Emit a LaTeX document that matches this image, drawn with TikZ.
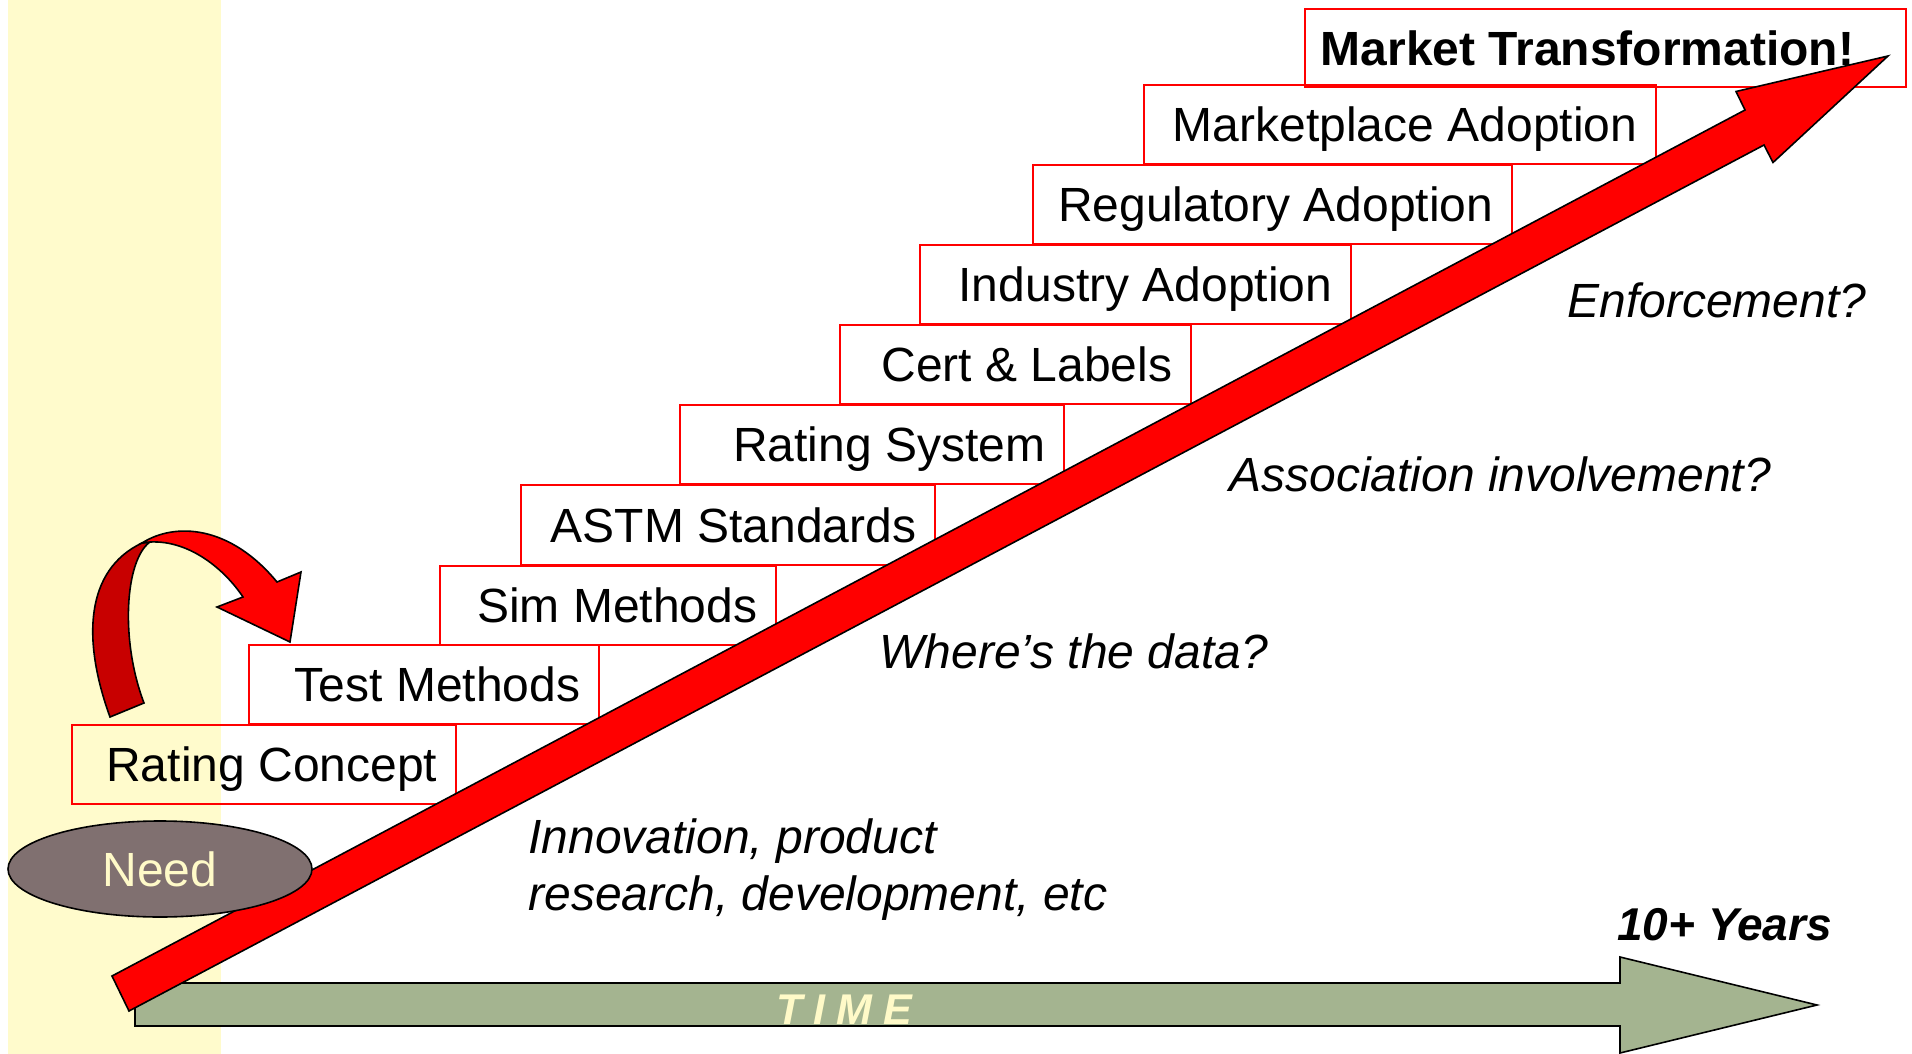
\documentclass[tikz,border=0pt]{standalone}
\usepackage{fontspec}
\setmainfont{Liberation Sans}
\usetikzlibrary{fit,shapes.geometric}
\definecolor{bandyellow}{RGB}{255,251,204}
\definecolor{timegreen}{RGB}{164,180,144}
\definecolor{needgray}{RGB}{128,112,112}
\definecolor{darkred}{RGB}{200,0,0}
\definecolor{lighttext}{RGB}{255,250,200}
\newcommand\stairbox[6]{%
  \node[boxst, fit={(#2,#3) (#4,#5)}] (#1) {};
  \node[boxlbl, anchor=east] (#1t) at ([xshift=-9.8pt]#1.east) {#6};
}
\begin{document}
\begin{tikzpicture}[x=0.5pt,y=-0.5pt,
  boxst/.style={draw=red, line width=1.2pt, inner sep=0pt},
  boxlbl/.style={inner sep=0pt, text height=17.2pt, text depth=0pt, font=\fontsize{24pt}{28.8pt}\selectfont},
  note/.style={inner sep=0pt, anchor=base west, font=\fontsize{24pt}{28.8pt}\selectfont\itshape},
  outl/.style={draw=black, line width=0.8pt, line join=miter}]
\useasboundingbox (0,0) rectangle (1912,1054);
\fill[white] (0,0) rectangle (1912,1054);
\fill[bandyellow] (8,0) rectangle (221,1054);
% time arrow
\draw[outl, fill=timegreen] (135,983) -- (1620,983) -- (1620,957) -- (1817,1005) -- (1620,1053) -- (1620,1026) -- (135,1026) -- cycle;
\node[inner sep=0pt, anchor=base west, text=lighttext, font=\fontsize{21.5pt}{25pt}\selectfont\bfseries\itshape] (time) at (776,1024) {T\kern5.5pt I\kern5.5pt M\kern5.5pt E};
% stair boxes
\stairbox{b1}{72}{725}{456}{804}{Rating Concept}
\stairbox{b2}{249}{645}{599}{724}{Test Methods}
\stairbox{b3}{440}{566}{776}{645}{Sim Methods}
\stairbox{b4}{521}{485}{935}{565}{ASTM Standards}
\stairbox{b5}{680}{405}{1064}{484}{Rating System}
\stairbox{b6}{840}{325}{1191}{404}{Cert \& Labels}
\stairbox{b7}{920}{245}{1351}{324}{Industry Adoption}
\stairbox{b8}{1033}{165}{1512}{244}{Regulatory Adoption}
\stairbox{b9}{1144}{85}{1656}{164}{Marketplace Adoption}
\node[boxst, fit={(1305,9) (1906,87)}] (b10) {};
\node[boxlbl, anchor=west, font=\fontsize{24pt}{28.8pt}\selectfont\bfseries] (b10t) at ([xshift=8.3pt]b10.west) {Market Transformation!};
% big red arrow
\draw[outl, fill=red] (112,976) -- (1745,110) -- (1736,91.5) -- (1888,56) -- (1773,162.5) -- (1764,145) -- (129,1011) -- cycle;
% need ellipse
\node[ellipse, draw=black, line width=0.8pt, fill=needgray, minimum width=152pt, minimum height=48pt, inner sep=0pt,
  text=lighttext, text height=17.2pt, text depth=0pt, font=\fontsize{24pt}{28.8pt}\selectfont] (need) at (160,869) {Need};
% curved arrow
\draw[outl, fill=darkred] (110,717) .. controls (82,640) and (85,570) .. (142,543) -- (150,542) .. controls (125,560) and (120,640) .. (144,703) -- cycle;
\draw[outl, fill=red] (142,543) .. controls (175,522) and (230,525) .. (277,582) -- (301,572) -- (290,642) -- (217,607) -- (243,597) .. controls (225,570) and (190,540) .. (150,542) -- cycle;
% notes
\node[note] (enf) at (1567,317) {Enforcement?};
\node[note] (assoc) at (1229,491) {Association involvement?};
\node[note] (data) at (879,668) {Where’s the data?};
\node[note] (innov1) at (528,853) {Innovation, product};
\node[note] (innov2) at (528,910) {research, development, etc};
\node[inner sep=0pt, anchor=base west, font=\fontsize{23pt}{27pt}\selectfont\bfseries\itshape] (years) at (1617,940) {10+ Years};
\end{tikzpicture}
\end{document}
